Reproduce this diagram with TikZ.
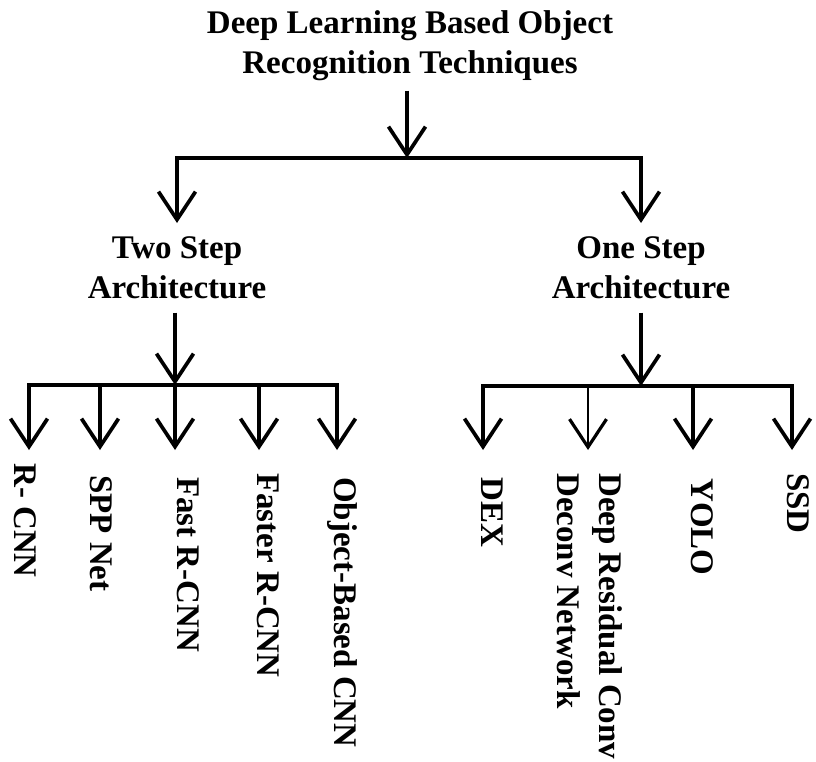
\documentclass[tikz,border=0pt]{standalone}
\usepackage{fontspec}
\setmainfont{Liberation Serif}
\usetikzlibrary{arrows.meta}
\begin{document}
\begin{tikzpicture}[x=1pt,y=-1pt,
  head/.style={font=\bfseries\fontsize{33}{40}\selectfont, inner sep=0pt, align=center, anchor=north},
  leaf/.style={font=\bfseries\fontsize{33}{42}\selectfont, inner sep=0pt, align=left, rotate=-90, anchor=west},
  link/.style={line width=3.7pt, line join=miter},
  arr/.style={link, -{Straight Barb[length=28pt,width=37pt,line width=3.7pt]}},
  thinarr/.style={line width=1.3pt, -{Straight Barb[length=28pt,width=37pt,line width=3.2pt]}},
]
\useasboundingbox (0,0) rectangle (816,761);

% headings
\node[head] (root) at (410,10) {Deep Learning Based Object\\Recognition Techniques};
\node[head] (two)  at (177,236) {Two Step\\Architecture};
\node[head] (one)  at (641,236) {One Step\\Architecture};

% junction points
\coordinate (j0) at (407,158);
\coordinate (j1) at (175,385);
\coordinate (j2) at (641,386);

% first level
\draw[arr, shorten <=10pt] (root.south -| j0) -- (j0);
\draw[arr, shorten >=13pt] (j0) -| (two.north);
\draw[arr, shorten >=13pt] (j0) -| (one.north);

% second level, two step
\draw[arr, shorten <=14pt] (two.south -| j1) -- (j1);
\coordinate (t1) at (29,450);
\coordinate (t2) at (100,450);
\coordinate (t3) at (175,450);
\coordinate (t4) at (259,450);
\coordinate (t5) at (337,450);
\draw[arr] (j1) -| (t1);
\draw[arr] (j1) -| (t2);
\draw[arr] (j1) -- (t3);
\draw[arr] (j1) -| (t4);
\draw[arr] (j1) -| (t5);

% second level, one step
\draw[arr, shorten <=14pt] (one.south -| j2) -- (j2);
\coordinate (u1) at (483,450);
\coordinate (u2) at (588,450);
\coordinate (u3) at (693,450);
\coordinate (u4) at (792,450);
\draw[arr] (j2) -| (u1);
\draw[link] (j2) -- (u2 |- j2);
\draw[thinarr] (u2 |- j2) -- (u2);
\draw[arr] (j2) -| (u3);
\draw[arr] (j2) -| (u4);

% leaves
\node[leaf] (rcnn)   at (25,463)  {R- CNN};
\node[leaf] (spp)    at (101,475) {SPP Net};
\node[leaf] (fast)   at (188,477) {Fast R-CNN};
\node[leaf] (faster) at (268,473) {Faster R-CNN};
\node[leaf] (obj)    at (342,477) {Object-Based CNN};
\node[leaf] (dex)    at (492,477) {DEX};
\node[leaf] (drc)    at (590,473) {Deep Residual Conv\\Deconv Network};
\node[leaf] (yolo)   at (702,478) {YOLO};
\node[leaf] (ssd)    at (798,473) {SSD};
\end{tikzpicture}
\end{document}
